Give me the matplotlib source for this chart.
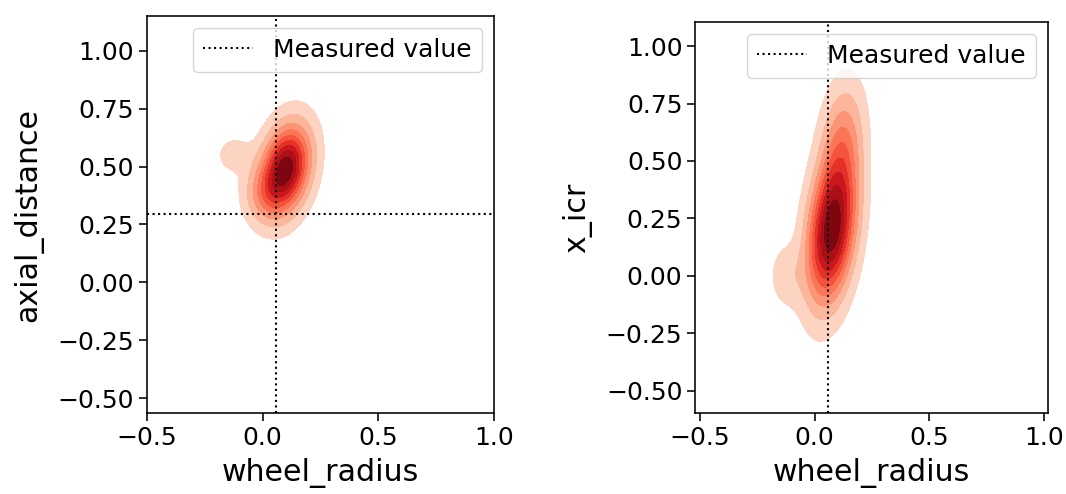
import matplotlib
matplotlib.use("Agg")
import matplotlib.pyplot as plt
import numpy as np

# measured reference values
measured_wheel_radius = 0.057
measured_axial_distance = 0.294

# posterior density components (centre, spread, correlation, weight)
# wheel_radius vs axial_distance
ad_cx = [0.10, 0.01, -0.12]
ad_cy = [0.49, 0.38, 0.55]
ad_sx = [0.068, 0.06, 0.055]
ad_sy = [0.12, 0.08, 0.055]
ad_rho = [0.25, 0.0, 0.0]
ad_w = [0.86, 0.11, 0.03]

# wheel_radius vs x_icr
icr_cx = [0.075, 0.12, -0.12]
icr_cy = [0.20, 0.58, 0.0]
icr_sx = [0.068, 0.06, 0.05]
icr_sy = [0.20, 0.17, 0.09]
icr_rho = [0.30, 0.2, 0.0]
icr_w = [0.79, 0.18, 0.03]

N_LEVELS = 10
THRESH = 0.05


def mixture_density(xx, yy, cx, cy, sx, sy, rho, w):
    z = np.zeros_like(xx)
    for mx, my, s1, s2, r, wt in zip(cx, cy, sx, sy, rho, w):
        dx = (xx - mx) / s1
        dy = (yy - my) / s2
        q = (dx**2 - 2 * r * dx * dy + dy**2) / (1 - r**2)
        z += wt * np.exp(-0.5 * q) / (2 * np.pi * s1 * s2 * np.sqrt(1 - r**2))
    return z


def iso_levels(density, props):
    # convert iso-proportions of mass to density levels
    vals = np.sort(density.ravel())[::-1]
    cum = np.cumsum(vals) / vals.sum()
    idx = np.searchsorted(cum, 1 - np.asarray(props))
    return np.take(vals, idx, mode="clip")


def kde_panel(ax, cx, cy, sx, sy, rho, w, xlim, ylim):
    gx = np.linspace(-0.6, 1.1, 400)
    gy = np.linspace(-0.8, 1.3, 500)
    xx, yy = np.meshgrid(gx, gy)
    dens = mixture_density(xx, yy, cx, cy, sx, sy, rho, w)
    levels = iso_levels(dens, np.linspace(THRESH, 1, N_LEVELS))
    levels[-1] = dens.max() * 1.001
    band_colors = plt.cm.Reds(np.linspace(0.17, 0.95, N_LEVELS - 1))
    ax.contourf(xx, yy, dens, levels=levels, colors=band_colors)
    ax.set_xlim(*xlim)
    ax.set_ylim(*ylim)


plt.rcParams['font.family'] = ['DejaVu Sans']
plt.rcParams['axes.linewidth'] = 1.15
plt.rcParams['xtick.major.size'] = 5.5
plt.rcParams['ytick.major.size'] = 5.5
plt.rcParams['xtick.major.width'] = 1.15
plt.rcParams['ytick.major.width'] = 1.15
plt.rcParams['xtick.labelsize'] = 18
plt.rcParams['ytick.labelsize'] = 18

fig = plt.figure(figsize=(10.66, 4.94), dpi=100)
W, H = 1066, 494
ax1 = fig.add_axes([146.7 / W, (H - 413.3) / H, 347.6 / W, 397.6 / H])
ax2 = fig.add_axes([695 / W, (H - 413.3) / H, 353.3 / W, 391.6 / H])

kde_panel(ax1, ad_cx, ad_cy, ad_sx, ad_sy, ad_rho, ad_w, (-0.5, 1.0), (-0.565, 1.151))
ax1.axvline(measured_wheel_radius, color="black", linestyle=":", linewidth=1.5, label="Measured value")
ax1.axhline(measured_axial_distance, color="black", linestyle=":", linewidth=1.5)
ax1.set_ylabel("axial_distance", fontsize=21.6, labelpad=10)

kde_panel(ax2, icr_cx, icr_cy, icr_sx, icr_sy, icr_rho, icr_w, (-0.522, 1.02), (-0.598, 1.106))
ax2.axvline(measured_wheel_radius, color="black", linestyle=":", linewidth=1.5, label="Measured value")
ax2.set_ylabel("x_icr", fontsize=21.6, labelpad=10)

for ax in (ax1, ax2):
    ax.set_xticks([-0.5, 0.0, 0.5, 1.0])
    ax.set_yticks([-0.5, -0.25, 0.0, 0.25, 0.5, 0.75, 1.0])
    ax.set_xlabel("wheel_radius", fontsize=21.6, labelpad=6)
    ax.legend(loc="upper right", fontsize=18)

fig.savefig("out.png", dpi=100)
